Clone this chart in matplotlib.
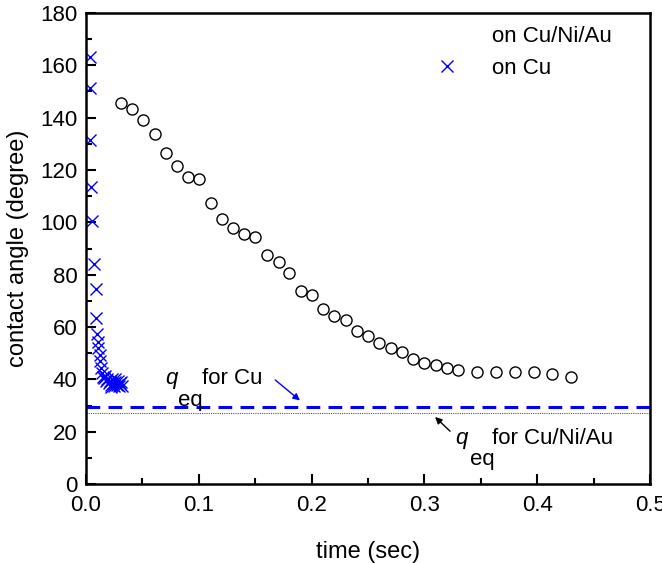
import matplotlib
matplotlib.use("Agg")
import matplotlib.pyplot as plt
from matplotlib.lines import Line2D
from matplotlib.ticker import MultipleLocator, FormatStrFormatter

plt.rcParams['font.family'] = ['Liberation Sans', 'DejaVu Sans']

# Cu/Ni/Au data (open circles)
t_au = [0.0308, 0.0411, 0.0508, 0.0612, 0.0709, 0.0810, 0.0907, 0.1005, 0.1108, 0.1206,
        0.1306, 0.1404, 0.1501, 0.1602, 0.1711, 0.1802, 0.1903, 0.2001, 0.2104, 0.2201,
        0.2302, 0.2400, 0.2503, 0.2600, 0.2701, 0.2801, 0.2902, 0.2999, 0.3100, 0.3198,
        0.3298, 0.3464, 0.3632, 0.3803, 0.3972, 0.4128, 0.4297]
ang_au = [145.5, 143.2, 139.1, 133.6, 126.4, 121.5, 117.5, 116.5, 107.3, 101.4,
          98.0, 95.6, 94.3, 87.5, 84.8, 80.5, 73.7, 72.2, 66.9, 64.3,
          62.7, 58.6, 56.6, 54.0, 52.2, 50.3, 47.8, 46.4, 45.4, 44.2,
          43.8, 42.9, 42.9, 42.7, 42.7, 42.0, 41.0]

# Cu data (blue crosses)
t_cu = [0.0035, 0.0035, 0.0035, 0.0045, 0.0050, 0.0070, 0.0085, 0.0085, 0.0100, 0.0105,
        0.0110, 0.0120, 0.0125, 0.0130, 0.0140, 0.0150, 0.0160, 0.0170, 0.0180, 0.0190,
        0.0200, 0.0210, 0.0220, 0.0230, 0.0240, 0.0250, 0.0260, 0.0270, 0.0280, 0.0290,
        0.0300, 0.0310, 0.0320, 0.0260, 0.0220]
ang_cu = [163.0, 151.5, 131.5, 113.5, 100.5, 84.0, 74.5, 63.5, 57.5, 54.5,
          52.0, 49.5, 47.0, 44.5, 42.5, 41.0, 40.5, 41.5, 39.5, 40.0,
          38.5, 39.5, 38.0, 40.0, 38.5, 37.5, 39.0, 38.0, 39.5, 37.5,
          38.5, 39.0, 37.5, 40.0, 37.0]

q_eq_cu = 29.6
q_eq_au = 27.1

fig = plt.figure(figsize=(6.62, 5.63), dpi=100)
ax = fig.add_axes([0.130, 0.140, 0.852, 0.837])

ax.plot(t_au, ang_au, 'o', mfc='none', mec='black', ms=8, mew=1.0)
ax.plot(t_cu, ang_cu, 'x', color='#0000FF', ms=9, mew=1.0)

ax.axhline(q_eq_cu, color='#0000FF', lw=2.2, ls=(0, (4.5, 2.7)))
ax.axhline(q_eq_au, color='#555555', lw=0.8, ls=(0, (1, 1)))

# annotations
fs = 16
ax.text(0.0754, 40.5, 'q', fontsize=fs, style='italic', ha='center', va='center')
ax.text(0.0816, 32.0, 'eq', fontsize=fs, ha='left', va='center')
ax.text(0.1028, 40.5, 'for Cu', fontsize=fs, ha='left', va='center')
ax.annotate('', xy=(0.1915, 31.3), xytext=(0.1658, 40.5),
            arrowprops=dict(arrowstyle='-|>', color='#0000FF', lw=1.0, mutation_scale=10))

ax.text(0.333, 17.5, 'q', fontsize=fs, style='italic', ha='center', va='center')
ax.text(0.340, 9.3, 'eq', fontsize=fs, ha='left', va='center')
ax.text(0.3596, 17.6, 'for Cu/Ni/Au', fontsize=fs, ha='left', va='center')
ax.annotate('', xy=(0.3076, 26.4), xytext=(0.3245, 19.5),
            arrowprops=dict(arrowstyle='-|>', color='black', lw=1.0, mutation_scale=10))

handles = [Line2D([], [], ls='none', marker=''),
           Line2D([], [], ls='none', marker='x', color='#0000FF', ms=9, mew=1.0)]
ax.legend(handles, ['on Cu/Ni/Au', 'on Cu'], loc='upper right', frameon=False,
          fontsize=fs, bbox_to_anchor=(0.967, 1.015), handletextpad=1.0,
          labelspacing=0.5)

ax.set_xlim(0, 0.5)
ax.set_ylim(0, 180)
ax.xaxis.set_major_locator(MultipleLocator(0.1))
ax.xaxis.set_minor_locator(MultipleLocator(0.05))
ax.yaxis.set_major_locator(MultipleLocator(20))
ax.yaxis.set_minor_locator(MultipleLocator(10))
ax.xaxis.set_major_formatter(FormatStrFormatter('%.1f'))
ax.tick_params(which='both', direction='in', labelsize=16, width=1.5)
ax.tick_params(which='major', length=7)
ax.tick_params(which='minor', length=4)
ax.tick_params(axis='x', pad=8)
ax.tick_params(axis='y', pad=6)
for s in ax.spines.values():
    s.set_linewidth(1.8)

ax.set_xlabel('time (sec)', fontsize=17, labelpad=18)
ax.set_ylabel('contact angle (degree)', fontsize=17, labelpad=8)

fig.savefig('out.png', dpi=100)
